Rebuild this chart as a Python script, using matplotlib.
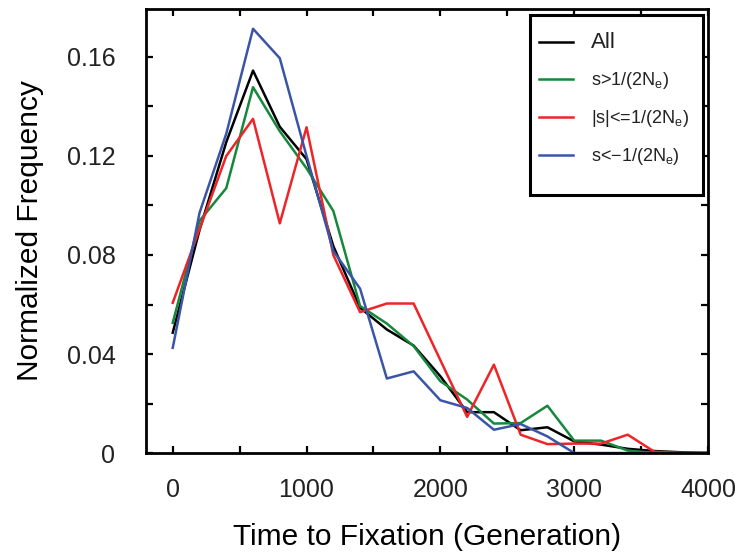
import matplotlib
matplotlib.use("Agg")
import matplotlib.pyplot as plt
import matplotlib.ticker as mticker
from matplotlib.patches import Rectangle

# ── data ─────────────────────────────────────────────────────────────────────
gens = [0, 200, 400, 600, 800, 1000, 1200, 1400, 1600, 1800, 2000,
        2200, 2400, 2600, 2800, 3000, 3200, 3400, 3600, 3800, 4000]

all_freq = [0.0486, 0.090, 0.1256, 0.1545, 0.1318, 0.1187, 0.0836, 0.0587, 0.0499, 0.0434, 0.031,
            0.0165, 0.0165, 0.0092, 0.0104, 0.0047, 0.0034, 0.0017, 0.0008, 0.0003, 0.0]
pos_freq = [0.0526, 0.0938, 0.107, 0.1478, 0.130, 0.115, 0.0978, 0.0594, 0.0523, 0.0432, 0.029,
            0.0216, 0.0119, 0.0121, 0.0191, 0.005, 0.005, 0.001, 0.0, 0.0, 0.0]
neu_freq = [0.0607, 0.0904, 0.120, 0.135, 0.0928, 0.1316, 0.080, 0.0569, 0.0604, 0.0604, 0.0375,
            0.0146, 0.0357, 0.0074, 0.0036, 0.0038, 0.0038, 0.0074, 0.0005, 0.0, 0.0]
neg_freq = [0.0425, 0.097, 0.129, 0.1714, 0.1595, 0.120, 0.0816, 0.0664, 0.0301, 0.033, 0.0213,
            0.0182, 0.0094, 0.0117, 0.0067, 0.0, 0.0, 0.0, 0.0, 0.0, 0.0]

labels = ["All", "s>1/(2N$_e$)", "|s|<=1/(2N$_e$)", "s<\u22121/(2N$_e$)"]
colors = ["#000000", "#15883c", "#ee2428", "#3b55a6"]

# ── style ────────────────────────────────────────────────────────────────────
plt.rcParams.update({
    "font.family": "Liberation Sans",
    "mathtext.default": "regular",
    "axes.linewidth": 2.0,
    "xtick.direction": "in",
    "ytick.direction": "in",
    "xtick.top": True,
    "ytick.right": True,
    "xtick.major.size": 5,
    "ytick.major.size": 5,
    "xtick.minor.size": 5,
    "ytick.minor.size": 5,
    "xtick.major.width": 1.6,
    "ytick.major.width": 1.6,
    "xtick.minor.width": 1.6,
    "ytick.minor.width": 1.6,
    "text.color": "#222222",
    "xtick.labelcolor": "#222222",
    "ytick.labelcolor": "#222222",
})

fig = plt.figure(figsize=(7.35, 5.59), dpi=100)
ax = fig.add_axes([0.1986, 0.1896, 0.7647, 0.7948])

series = [all_freq, pos_freq, neu_freq, neg_freq]
lines = []
for vals, lab, col in zip(series, labels, colors):
    ln, = ax.plot(gens, vals, color=col, linewidth=1.8, label=lab)
    lines.append(ln)

ax.set_xlim(-200, 4000)
ax.set_ylim(0, 0.1795)
ax.xaxis.set_major_locator(mticker.MultipleLocator(1000))
ax.xaxis.set_minor_locator(mticker.MultipleLocator(500))
ax.yaxis.set_major_locator(mticker.MultipleLocator(0.04))
ax.yaxis.set_minor_locator(mticker.MultipleLocator(0.02))
ax.yaxis.set_major_formatter(mticker.FuncFormatter(lambda v, p: "0" if v == 0 else f"{v:.2f}"))
ax.tick_params(axis="x", which="major", labelsize=18, pad=18)
ax.tick_params(axis="y", which="major", labelsize=18, pad=22)

ax.set_xlabel("Time to Fixation (Generation)", fontsize=21.5, labelpad=15)
ax.set_ylabel("Normalized Frequency", fontsize=21.5, labelpad=16)

# legend entries without frame; the box is drawn separately (taller than the entries)
leg = ax.legend(handles=lines, loc="upper left", bbox_to_anchor=(0.683, 0.968),
                borderaxespad=0, fontsize=13, frameon=False,
                handlelength=1.9, borderpad=0.5, labelspacing=0.95, handletextpad=1.0)
leg.get_texts()[0].set_fontsize(16)
ax.add_patch(Rectangle((0.683, 0.581), 0.308, 0.405, transform=ax.transAxes,
                       facecolor="white", edgecolor="black", linewidth=2.2, zorder=4))
leg.set_zorder(5)

fig.savefig("out.png", dpi=100, facecolor="white")
